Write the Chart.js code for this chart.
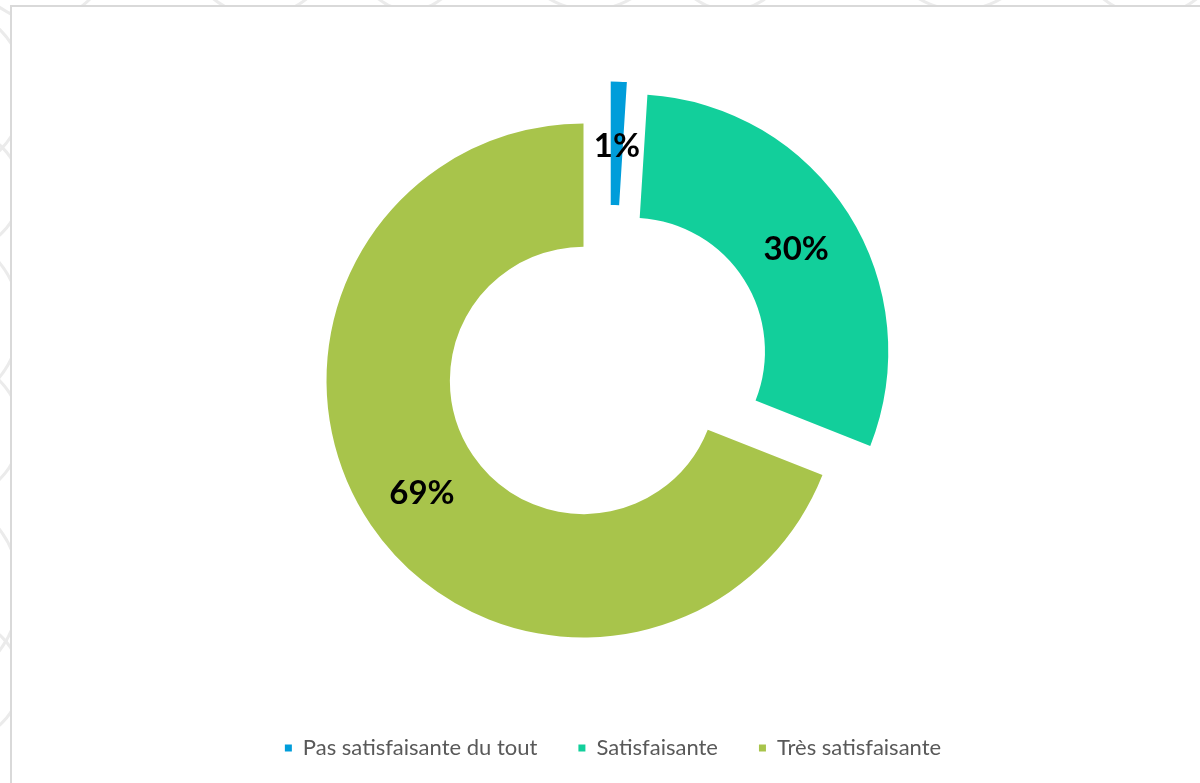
<!DOCTYPE html>
<html>
<head>
<meta charset="utf-8">
<script src="https://cdn.jsdelivr.net/npm/chart.js@4/dist/chart.umd.min.js"></script>
<style>
  html, body { margin: 0; padding: 0; background: #fff; }
  #page { position: relative; width: 1200px; height: 783px; overflow: hidden; }
  #deco { position: absolute; left: 0; top: 0; }
  #frame { position: absolute; left: 10px; top: 5px; right: -4px; bottom: -4px;
           background: #fff; border: 2px solid #d9d9d9; }
  #chartBox { position: absolute; left: 0; top: 0; width: 1200px; height: 783px; }
</style>
</head>
<body>
<div id="page">
  <svg id="deco" width="1200" height="783" fill="none" stroke="#ebebeb" stroke-width="3">
    <circle cx="-60" cy="90" r="85"/>
    <circle cx="-40" cy="190" r="60"/>
    <circle cx="-70" cy="320" r="90"/>
    <circle cx="-50" cy="430" r="70"/>
    <circle cx="-80" cy="590" r="100"/>
    <circle cx="-40" cy="680" r="60"/>
    <circle cx="40" cy="-50" r="70"/>
    <circle cx="260" cy="-60" r="75"/>
    <circle cx="410" cy="-40" r="50"/>
    <circle cx="590" cy="-70" r="80"/>
    <circle cx="730" cy="-50" r="60"/>
    <circle cx="960" cy="-70" r="80"/>
    <circle cx="1150" cy="-60" r="75"/>
  </svg>
  <div id="frame"></div>
  <div id="chartBox"><canvas id="avis"></canvas></div>
</div>
<script>
const labels = ["Pas satisfaisante du tout", "Satisfaisante", "Très satisfaisante"];
const values = [1, 30, 69];
const colors = ["#009dda", "#12cf9b", "#a8c44b"];

// pulled-out slices: distance in px and direction (deg, clockwise from 12 o'clock)
const explode = [{d: 50, a: 33}, {d: 56, a: 58.6}, {d: 0, a: 0}];
const pieShiftX = -29.5;

// move each arc off the common centre, like an exploded pie
const explodePlugin = {
  id: "explode",
  afterDatasetUpdate(chart, args) {
    const ca = chart.chartArea;
    const cx = (ca.left + ca.right) / 2 + pieShiftX;
    const cy = (ca.top + ca.bottom) / 2;
    args.meta.data.forEach(function (arc, i) {
      const e = explode[i];
      const rad = e.a * Math.PI / 180;
      arc.x = cx + e.d * Math.sin(rad);
      arc.y = cy - e.d * Math.cos(rad);
    });
  }
};

// percentage written in the middle of each ring piece
const pctLabels = {
  id: "pctLabels",
  afterDatasetsDraw(chart) {
    const ctx = chart.ctx;
    const meta = chart.getDatasetMeta(0);
    ctx.save();
    ctx.font = "bold 33px Lato";
    ctx.fillStyle = "#000";
    ctx.textAlign = "center";
    ctx.textBaseline = "middle";
    meta.data.forEach(function (arc, i) {
      const p = arc.tooltipPosition();
      ctx.fillText(values[i] + "%", p.x, p.y + 3);
    });
    ctx.restore();
  }
};

new Chart("avis", {
  type: "doughnut",
  data: {
    labels: labels,
    datasets: [{
      data: values,
      backgroundColor: colors,
      borderWidth: 0,
      hoverOffset: 0
    }]
  },
  options: {
    responsive: true,
    maintainAspectRatio: false,
    animation: false,
    radius: 257,
    cutout: "52%",
    layout: { padding: { top: 65, bottom: 14, left: 26, right: 0 } },
    plugins: {
      tooltip: { enabled: false },
      legend: {
        position: "bottom",
        labels: {
          boxWidth: 7,
          boxHeight: 7,
          padding: 41,
          color: "#595959",
          font: { family: "Lato", size: 22 }
        }
      }
    }
  },
  plugins: [explodePlugin, pctLabels]
});
</script>
</body>
</html>
